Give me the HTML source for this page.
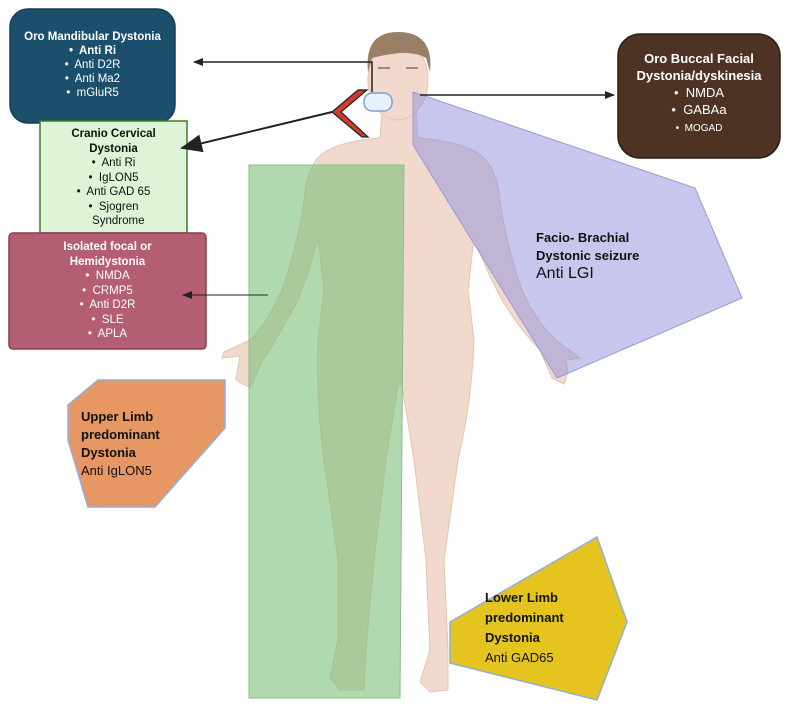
<!DOCTYPE html>
<html><head><meta charset="utf-8"><style>
body{margin:0;background:#fff;width:800px;height:709px;overflow:hidden;font-family:"Liberation Sans",sans-serif}
.t{position:absolute;text-align:center;line-height:14px;font-size:11px}
</style></head><body>
<svg width="800" height="709" style="position:absolute;left:0;top:0">
<defs>
<marker id="a" markerWidth="10" markerHeight="8" refX="9" refY="4" orient="auto" markerUnits="userSpaceOnUse"><path d="M0,0L10,4L0,8z" fill="#222"/></marker>
<marker id="b" markerWidth="22" markerHeight="18" refX="20" refY="9" orient="auto" markerUnits="userSpaceOnUse"><path d="M0,0L22,9L0,18z" fill="#222"/></marker>
</defs>
<!-- body -->
<g fill="#f1dacd" stroke="#e6c3b0" stroke-width="1">
<path d="M382,112 L380,138 Q330,142 316,160 Q306,175 304,200 Q298,245 282,290 Q266,325 250,340 L224,352 L222,358 L240,356 L236,380 L250,388 L262,362 Q282,330 298,300 Q310,270 318,238 L324,290 L318,340 Q316,400 324,460 L338,560 L338,640 L330,678 L340,690 L364,690 L366,650 L374,560 L386,460 L398,385 L402,385 L414,460 L426,560 L430,650 L420,682 L430,692 L448,690 L448,650 L444,560 L458,460 Q472,400 474,340 L468,290 L474,238 Q486,270 502,300 Q520,330 540,350 L552,378 L564,384 L568,372 L566,360 L580,358 L556,340 Q536,322 522,290 Q506,245 500,200 Q498,175 486,160 Q470,142 418,138 L416,112 Z"/>
<ellipse cx="398" cy="80" rx="30" ry="40"/>
</g>
<path d="M368,72 Q364,32 398,32 Q434,32 430,72 L426,58 Q410,48 372,58 Z" fill="#9a7e66"/>
<path d="M378,68 L390,68 M406,68 L418,68" stroke="#8a6a55" stroke-width="1.5"/>
<!-- green -->
<polygon points="249,165 404,165 400,698 249,698" fill="#7dc07a" fill-opacity="0.6" stroke="#8bbd88"/>
<!-- purple -->
<polygon points="413,92 695,188 742,298 557,378 413,145" fill="#8f8fde" fill-opacity="0.5" stroke="#9a9ad8"/>
<!-- orange -->
<polygon points="68,405 98,380 225,380 225,428 155,507 88,507 68,440" fill="#e69763" stroke="#93aed6" stroke-width="1.5"/>
<!-- yellow -->
<polygon points="450,622 597,537 627,622 597,700 450,663" fill="#e6c41f" stroke="#93aed6" stroke-width="1.5"/>
<!-- boxes -->
<rect x="10" y="9" width="165" height="114" rx="18" fill="#1b4f6c" stroke="#163e57" stroke-width="1.5"/>
<rect x="40" y="121" width="147" height="112" fill="#dff3d7" stroke="#3f7d2a" stroke-width="1.5"/>
<rect x="9" y="233" width="197" height="116" rx="4" fill="#b45e73" stroke="#8a3e51" stroke-width="1.5"/>
<rect x="618" y="34" width="162" height="124" rx="22" fill="#4e3324" stroke="#2c1c13" stroke-width="1.5"/>
<!-- connectors -->
<path d="M372,92 L372,62 L194,62" fill="none" stroke="#222" stroke-width="1.5" marker-end="url(#a)"/>
<path d="M420,95 L614,95" stroke="#222" stroke-width="1.5" marker-end="url(#a)"/>
<path d="M332,112 L182,148" stroke="#222" stroke-width="2" marker-end="url(#b)"/>
<path d="M268,295 L183,295" stroke="#222" stroke-width="1" marker-end="url(#a)"/>
<polygon points="367,90 358,90 332,112 362,137 368,137 341,112" fill="#d23a2c" stroke="#222" stroke-width="1.2"/>
<rect x="364" y="93" width="28" height="18" rx="8" fill="#e8f0fb" stroke="#7e9fd6" stroke-width="1.5"/>
</svg>
<div class="t" style="left:10px;top:30px;width:165px;color:#fff;font-size:11.5px"><b>Oro Mandibular Dystonia</b><br><b>•&nbsp; Anti Ri</b><br>•&nbsp; Anti D2R<br>•&nbsp; Anti Ma2<br>•&nbsp; mGluR5</div>
<div class="t" style="left:40px;top:127px;width:147px;color:#111;line-height:14.5px;font-size:11.5px"><b>Cranio Cervical<br>Dystonia</b><br>•&nbsp; Anti Ri<br>•&nbsp; IgLON5<br>•&nbsp; Anti GAD 65<br>•&nbsp; Sjogren<br>&nbsp;&nbsp;&nbsp;Syndrome</div>
<div class="t" style="left:9px;top:240px;width:197px;color:#fff;line-height:14.5px;font-size:11.5px"><b>Isolated focal or<br>Hemidystonia</b><br>•&nbsp; NMDA<br>•&nbsp; CRMP5<br>•&nbsp; Anti D2R<br>•&nbsp; SLE<br>•&nbsp; APLA</div>
<div class="t" style="left:618px;top:50px;width:162px;color:#fff;font-size:13px;line-height:17px"><b>Oro Buccal Facial<br>Dystonia/dyskinesia</b><br>•&nbsp; NMDA<br>•&nbsp; GABAa<br><span style="font-size:10px">•&nbsp; MOGAD</span></div>
<div style="position:absolute;left:536px;top:229px;font-size:13px;line-height:18px;color:#111"><b>Facio- Brachial<br>Dystonic seizure</b><br><span style="font-size:16px">Anti LGI</span></div>
<div style="position:absolute;left:81px;top:408px;font-size:13px;line-height:18px;color:#111"><b>Upper Limb<br>predominant<br>Dystonia</b><br>Anti IgLON5</div>
<div style="position:absolute;left:485px;top:588px;font-size:13px;line-height:20px;color:#111"><b>Lower Limb<br>predominant<br>Dystonia</b><br>Anti GAD65</div>
</body></html>
